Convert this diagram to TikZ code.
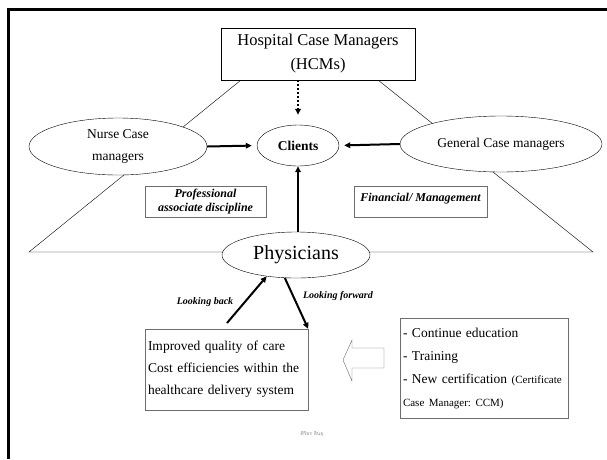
\documentclass[tikz,border=0pt]{standalone}
\usepackage{fontspec}
\setmainfont{Liberation Serif}
\newfontfamily\thaifont[Script=Thai]{Loma}
\usetikzlibrary{arrows.meta,shapes.geometric}

\begin{document}
\begin{tikzpicture}[x=1pt, y=-1pt, >={Triangle[length=6pt,width=5.5pt]}]

  % Colors
  \definecolor{edgegray}{HTML}{6E6E6E}
  \definecolor{footgray}{HTML}{8A8A8A}

  \tikzset{
    oval/.style={ellipse, draw, thin, fill=white, inner sep=0pt, align=center,
      font=\fontsize{13.5}{22}\selectfont},
    flow/.style={->, line width=2pt},
    tagbox/.style={draw=edgegray, fill=white, inner sep=0pt, align=center,
      font=\fontsize{12}{13.5}\selectfont\bfseries\itshape},
    looklabel/.style={font=\fontsize{10}{12}\selectfont\bfseries\itshape},
    listbox/.style={draw=edgegray, inner ysep=0pt, align=left,
      font=\fontsize{13.5}{23}\selectfont\frenchspacing}
  }

  \useasboundingbox (0,0) rectangle (607,459);

  % Frame
  \draw[line width=2.4pt] (8.5,459) -- (8.5,9.5) -- (607,9.5);

  % Trapezoid behind the ovals
  \coordinate (topl) at (241,80);
  \coordinate (topr) at (378,80);
  \coordinate (botl) at (29,252);
  \coordinate (botr) at (593,252);
  \draw[thin] (topl) -- (botl) -- (botr) -- (topr);

  % Top box
  \node[draw, thin, fill=white, minimum width=194, minimum height=52, align=center,
        font=\fontsize{16.5}{24}\selectfont] (hcm) at (318,54)
        {Hospital Case Managers\\(HCMs)};

  % Ovals
  \node[oval, minimum width=82, minimum height=41, font=\fontsize{13.5}{16}\selectfont\bfseries]
        (clients) at (298,145.5) {Clients};
  \node[oval, minimum width=178, minimum height=57] (nurse) at (118,146.5) {Nurse Case\\managers};
  \node[oval, minimum width=202, minimum height=56] (general) at (501,144) {General Case managers};
  \node[oval, minimum width=148, minimum height=46, font=\fontsize{20}{24}\selectfont]
        (phys) at (296,255) {Physicians};

  % Discipline tags
  \node[tagbox, minimum width=121, minimum height=31] (prof) at (205.5,201.5)
        {Professional\\associate discipline};
  \node[tagbox, minimum width=133, minimum height=31, text depth=9pt] (fin) at (420.5,201.5)
        {Financial/ Management};

  % Arrows into Clients
  \draw[flow, dotted] (clients |- hcm.south) -- (clients.north) [shorten >=10pt];
  \draw[flow, shorten >=5pt] (nurse.east) -- (clients.west);
  \draw[flow, shorten >=5pt] (general.west) -- (clients.east);
  \draw[flow] (clients |- phys.north) -- (clients.south);

  % Outcome box
  \node[draw=edgegray, thin, inner xsep=3pt, inner ysep=0pt, text width=157, minimum height=81,
        align=left, font=\fontsize{13.5}{22}\selectfont] (improved) at (226.5,369.5)
        {Improved quality of care\\Cost efficiencies within the\\healthcare delivery system};

  % Looking back / forward
  \coordinate (backstart) at (227,323);
  \draw[flow] (backstart) -- (phys.216);
  \draw[flow] (phys.244) -- (improved.north east);
  \node[looklabel] (back) at (205,302) {Looking back};
  \node[looklabel] (fwd) at (338,296) {Looking forward};

  % Training box
  \node[listbox, inner xsep=3pt, text width=162, minimum height=100] (train) at (484,368)
        {- Continue education\\
         - Training\\
         - New certification {\fontsize{11}{23}\selectfont(Certificate}\\
         {\fontsize{11}{23}\selectfont Case Manager: CCM)}};

  % Hollow arrow
  \draw[draw=edgegray, thin, fill=white] (384,348) -- (352,348) -- (352,340) -- (343,360)
        -- (352,381) -- (352,368) -- (384,368) -- cycle;

  % Footer
  \node[text=footgray, font=\thaifont\fontsize{5}{6}\selectfont] (foot) at (312,434) {ศิริอร สินธุ};

\end{tikzpicture}
\end{document}
